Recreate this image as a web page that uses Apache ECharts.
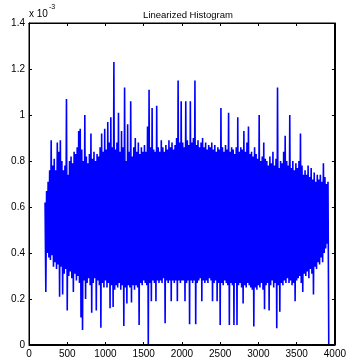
<!DOCTYPE html>
<html>
<head>
<meta charset="utf-8">
<script src="https://cdn.jsdelivr.net/npm/echarts@6/dist/echarts.min.js"></script>
<style>
html,body{margin:0;padding:0;background:#fff;}
#chart{width:349px;height:362px;}
</style>
</head>
<body>
<div id="chart"></div>
<script>
// Values are in units of 10^-3 (axis multiplier shown as "x 10^-3")
const titleText = 'Linearized Histogram';
const xTicks = [0, 500, 1000, 1500, 2000, 2500, 3000, 3500, 4000];
const yTicks = [0, 0.2, 0.4, 0.6, 0.8, 1, 1.2, 1.4];
const firstBin = 210;   // first bin position
const binStep = 10;     // spacing between consecutive bins
// alternating bins: local highs (even bins) and local lows (odd bins)
const peaks = [
  0.62, 0.67, 0.71, 0.76, 0.89,
  0.78, 0.81, 0.76, 0.88, 0.84,
  0.89, 0.80, 0.76, 0.78, 1.07,
  0.74, 0.80, 0.82, 0.79, 0.84,
  0.83, 0.86, 0.93, 0.94, 0.85,
  0.80, 1.00, 0.82, 0.79, 0.83,
  0.92, 0.81, 0.84, 0.80, 0.83,
  0.82, 0.86, 0.92, 0.84, 0.94,
  0.85, 0.97, 0.88, 0.99, 0.86,
  1.23, 0.85, 0.88, 1.01, 0.84,
  0.93, 0.86, 1.12, 0.80, 0.96,
  0.84, 1.06, 0.82, 0.86, 0.90,
  0.84, 0.88, 0.83, 0.86, 0.84,
  0.87, 0.84, 0.95, 1.11, 0.86,
  1.03, 0.85, 0.84, 1.04, 0.86,
  0.84, 0.89, 0.86, 0.84, 0.87,
  0.85, 0.89, 0.86, 0.88, 0.85,
  0.87, 0.90, 1.15, 0.88, 1.06,
  0.88, 0.86, 1.06, 0.89, 0.87,
  1.06, 0.88, 0.90, 1.15, 0.87,
  0.89, 0.86, 0.88, 0.90, 0.86,
  0.88, 0.85, 0.87, 0.86, 0.88,
  0.85, 0.87, 0.84, 0.86, 0.85,
  1.03, 0.86, 0.84, 0.87, 0.85,
  1.01, 0.84, 0.86, 0.85, 0.83,
  0.86, 0.99, 0.84, 0.86, 0.85,
  0.93, 0.84, 0.88, 0.95, 0.83,
  0.84, 0.82, 0.86, 0.83, 0.81,
  1.00, 0.80, 0.82, 0.88, 0.81,
  0.80, 0.78, 0.82, 0.79, 0.84,
  0.78, 0.81, 1.12, 0.77, 0.80,
  0.79, 0.84, 0.91, 0.80, 0.78,
  1.00, 0.77, 0.80, 0.76, 0.79,
  0.77, 0.80, 0.92, 0.78, 0.74,
  0.76, 0.74, 0.78, 0.73, 0.77,
  0.72, 0.75, 0.71, 0.74, 0.72,
  0.74, 0.71, 0.79, 0.73, 0.70,
  0.71
];
const troughs = [
  0.23, 0.40, 0.38, 0.37, 0.39,
  0.34, 0.36, 0.33, 0.35, 0.21,
  0.34, 0.22, 0.31, 0.33, 0.15,
  0.30, 0.32, 0.29, 0.23, 0.31,
  0.28, 0.30, 0.27, 0.12, 0.065,
  0.28, 0.20, 0.27, 0.29, 0.26,
  0.14, 0.27, 0.29, 0.15, 0.28,
  0.26, 0.075, 0.27, 0.25, 0.28,
  0.25, 0.27, 0.16, 0.26, 0.165,
  0.24, 0.26, 0.25, 0.27, 0.24,
  0.26, 0.083, 0.25, 0.18, 0.26,
  0.25, 0.185, 0.26, 0.24, 0.26,
  0.25, 0.087, 0.27, 0.26, 0.28,
  0.27, 0.26, 0.0, 0.27, 0.19,
  0.28, 0.27, 0.19, 0.28, 0.27,
  0.28, 0.27, 0.29, 0.095, 0.28,
  0.27, 0.28, 0.19, 0.28, 0.27,
  0.28, 0.19, 0.28, 0.27, 0.28,
  0.28, 0.19, 0.27, 0.28, 0.09,
  0.28, 0.27, 0.28, 0.09, 0.27,
  0.28, 0.29, 0.19, 0.28, 0.27,
  0.28, 0.27, 0.29, 0.28, 0.19,
  0.27, 0.28, 0.19, 0.27, 0.087,
  0.27, 0.26, 0.28, 0.27, 0.26,
  0.087, 0.27, 0.26, 0.087, 0.27,
  0.087, 0.26, 0.27, 0.25, 0.18,
  0.26, 0.25, 0.27, 0.26, 0.25,
  0.24, 0.08, 0.25, 0.24, 0.26,
  0.25, 0.27, 0.24, 0.155, 0.26,
  0.27, 0.15, 0.26, 0.28, 0.25,
  0.27, 0.073, 0.26, 0.145, 0.27,
  0.26, 0.28, 0.27, 0.29, 0.27,
  0.28, 0.26, 0.27, 0.19, 0.28,
  0.29, 0.30, 0.27, 0.23, 0.31,
  0.30, 0.32, 0.29, 0.33, 0.31,
  0.22, 0.34, 0.33, 0.36, 0.35,
  0.38, 0.36, 0.40, 0.42, 0.44,
  0.0
];

const seriesData = [];
for (let i = 0; i < peaks.length; i++) {
  seriesData.push([firstBin + 2 * i * binStep, peaks[i]]);
  if (i < troughs.length) seriesData.push([firstBin + (2 * i + 1) * binStep, troughs[i]]);
}

const FONT = 'Liberation Sans, Arial, Helvetica, sans-serif';
const chart = echarts.init(document.getElementById('chart'), null, {renderer: 'canvas'});
const axisLineStyle = {show: true, onZero: false, lineStyle: {color: '#000', width: 1}};
const tickStyle = {show: true, inside: true, length: 3, lineStyle: {color: '#000', width: 1}};
const xMin = xTicks[0], xMax = xTicks[xTicks.length - 1], xInt = xTicks[1] - xTicks[0];
const yMin = yTicks[0], yMax = yTicks[yTicks.length - 1], yInt = 0.2;

chart.setOption({
  animation: false,
  backgroundColor: '#fff',
  title: {
    text: titleText, left: 183, top: 5, textAlign: 'center',
    textStyle: {fontSize: 9.5, fontWeight: 'normal', color: '#000', fontFamily: FONT}
  },
  grid: {left: 29, top: 23, right: 11, bottom: 17, containLabel: false,
         show: true, borderColor: '#000', borderWidth: 1, backgroundColor: 'transparent'},
  xAxis: [
    {type: 'value', min: xMin, max: xMax, interval: xInt, position: 'bottom',
     axisLine: axisLineStyle, axisTick: tickStyle, splitLine: {show: false},
     axisLabel: {fontSize: 10, color: '#000', fontFamily: FONT, margin: 4,
       formatter: v => String(v)}},
    {type: 'value', min: xMin, max: xMax, interval: xInt, position: 'top',
     axisLine: axisLineStyle, axisTick: tickStyle, splitLine: {show: false},
     axisLabel: {show: false}}
  ],
  yAxis: [
    {type: 'value', min: yMin, max: yMax, interval: yInt, position: 'left',
     axisLine: axisLineStyle, axisTick: tickStyle, splitLine: {show: false},
     axisLabel: {fontSize: 10, color: '#000', fontFamily: FONT, margin: 4,
       formatter: v => String(+v.toFixed(1))}},
    {type: 'value', min: yMin, max: yMax, interval: yInt, position: 'right',
     axisLine: axisLineStyle, axisTick: tickStyle, splitLine: {show: false},
     axisLabel: {show: false}}
  ],
  graphic: [
    {type: 'text', left: 29, top: 9, style: {text: 'x 10', fontSize: 10, fill: '#000', fontFamily: FONT}},
    {type: 'text', left: 49, top: 4, style: {text: '-3', fontSize: 7, fill: '#000', fontFamily: FONT}}
  ],
  series: [{
    type: 'line', data: seriesData, showSymbol: false, symbol: 'none',
    xAxisIndex: 0, yAxisIndex: 0,
    lineStyle: {color: '#0000ff', width: 1.6}, sampling: null, silent: true
  }]
});

// box outline drawn from the axes' own scale (top-right and bottom-left corners)
const tl = chart.convertToPixel({xAxisIndex: 0, yAxisIndex: 0}, [xMin, yMax]);
const br = chart.convertToPixel({xAxisIndex: 0, yAxisIndex: 0}, [xMax, yMin]);
chart.setOption({
  graphic: [
    {type: 'text', left: 29, top: 9, style: {text: 'x 10', fontSize: 10, fill: '#000', fontFamily: FONT}},
    {type: 'text', left: 49, top: 4, style: {text: '-3', fontSize: 7, fill: '#000', fontFamily: FONT}},
    {type: 'rect', z: 100, silent: true,
     shape: {x: Math.round(tl[0]) + 0.5, y: Math.round(tl[1]) + 0.5,
             width: Math.round(br[0] - tl[0]) - 1, height: Math.round(br[1] - tl[1]) - 1},
     style: {fill: 'none', stroke: '#000', lineWidth: 1}}
  ]
});
</script>
</body>
</html>
